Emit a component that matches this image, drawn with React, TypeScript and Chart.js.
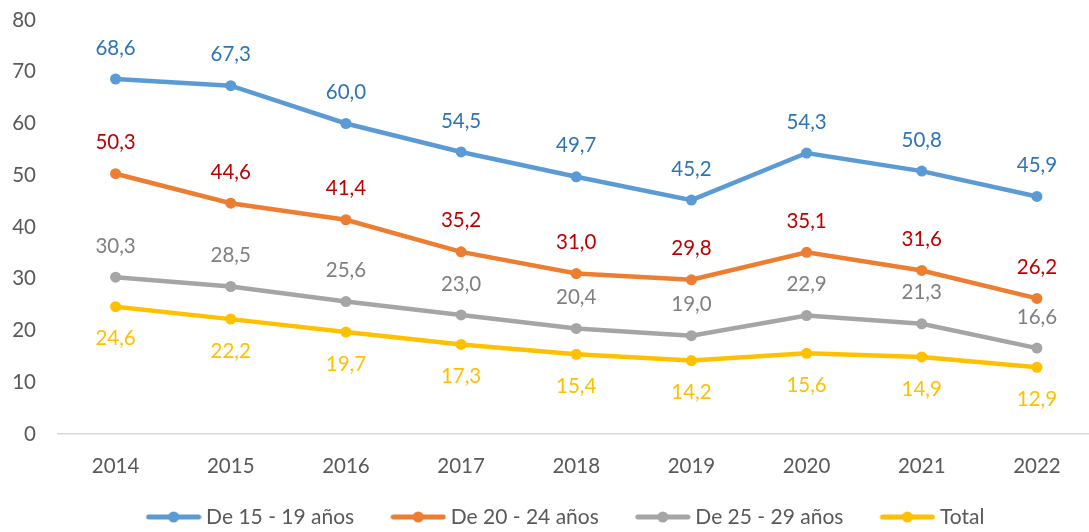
import React, { useEffect, useRef } from "react";
import { Chart, registerables } from "chart.js";

Chart.register(...registerables);

const years = ["2014", "2015", "2016", "2017", "2018", "2019", "2020", "2021", "2022"];
const de15a19 = [68.6, 67.3, 60.0, 54.5, 49.7, 45.2, 54.3, 50.8, 45.9];
const de20a24 = [50.3, 44.6, 41.4, 35.2, 31.0, 29.8, 35.1, 31.6, 26.2];
const de25a29 = [30.3, 28.5, 25.6, 23.0, 20.4, 19.0, 22.9, 21.3, 16.6];
const total = [24.6, 22.2, 19.7, 17.3, 15.4, 14.2, 15.6, 14.9, 12.9];
const seriesNames = ["De 15 - 19 años", "De 20 - 24 años", "De 25 - 29 años", "Total"];

const lineColors = ["#5B9BD5", "#ED7D31", "#A5A5A5", "#FFC000"];
const labelColors = ["#2E75B6", "#C00000", "#808080", "#FFC000"];
const labelBelow = [false, false, false, true];
const FONT = "Lato";

const LEG_BOX = 76;
const LEG_IMG_W = LEG_BOX + 12;

function makeLegendImage(color: string): HTMLCanvasElement {
  const c = document.createElement("canvas");
  c.width = LEG_IMG_W;
  c.height = 14;
  const ctx = c.getContext("2d")!;
  const x0 = LEG_IMG_W - 56;
  ctx.strokeStyle = color;
  ctx.lineWidth = 5;
  ctx.lineCap = "round";
  ctx.beginPath();
  ctx.moveTo(x0 + 3, 7);
  ctx.lineTo(LEG_IMG_W - 3, 7);
  ctx.stroke();
  ctx.fillStyle = color;
  ctx.beginPath();
  ctx.arc(x0 + 28, 7, 5.5, 0, Math.PI * 2);
  ctx.fill();
  return c;
}

const valueLabels = {
  id: "valueLabels",
  afterDatasetsDraw(chart: any) {
    const ctx = chart.ctx;
    chart.data.datasets.forEach((ds: any, i: number) => {
      const meta = chart.getDatasetMeta(i);
      ctx.save();
      ctx.font = `20.5px ${FONT}`;
      ctx.fillStyle = labelColors[i];
      ctx.textAlign = "center";
      ctx.textBaseline = "middle";
      meta.data.forEach((pt: any, j: number) => {
        const v = ds.data[j] as number;
        const txt = v.toFixed(1).replace(".", ",");
        ctx.fillText(txt, pt.x, pt.y + (labelBelow[i] ? 32 : -31));
      });
      ctx.restore();
    });
  },
};

const shiftLegend = {
  id: "shiftLegend",
  afterInit(chart: any) {
    const lg = chart.legend;
    if (!lg) return;
    const orig = lg.draw.bind(lg);
    lg.draw = (...args: any[]) => {
      chart.ctx.save();
      chart.ctx.translate(2, 5.5);
      orig(...args);
      chart.ctx.restore();
    };
  },
};

export default function App() {
  const ref = useRef<HTMLCanvasElement | null>(null);

  useEffect(() => {
    document.body.style.margin = "0";
    document.body.style.overflow = "hidden";
    let chart: Chart | null = null;
    let cancelled = false;
    const build = () => {
      if (cancelled || !ref.current) return;
      const seriesData = [de15a19, de20a24, de25a29, total];
      const legendImgs = lineColors.map(makeLegendImage);
      chart = new Chart(ref.current, {
        type: "line",
        data: {
          labels: years,
          datasets: seriesData.map((d, i) => ({
            label: seriesNames[i],
            data: d,
            borderColor: lineColors[i],
            backgroundColor: lineColors[i],
            borderWidth: 4.5,
            pointRadius: 5.5,
            pointBackgroundColor: lineColors[i],
            pointBorderWidth: 0,
            tension: 0,
          })),
        },
        options: {
          animation: false,
          responsive: true,
          maintainAspectRatio: false,
          layout: { padding: { top: 20, right: 0, left: 0, bottom: 0 } },
          plugins: {
            tooltip: { enabled: false },
            legend: {
              position: "bottom",
              labels: {
                font: { family: FONT, size: 21 },
                color: "#595959",
                usePointStyle: true,
                pointStyleWidth: LEG_BOX,
                padding: 10,
                generateLabels: (c: any) =>
                  c.data.datasets.map((ds: any, i: number) => ({
                    text: ds.label,
                    pointStyle: legendImgs[i],
                    fillStyle: lineColors[i],
                    strokeStyle: lineColors[i],
                    lineWidth: 0,
                    hidden: false,
                    datasetIndex: i,
                    fontColor: "#595959",
                  })),
              },
            },
          },
          scales: {
            x: {
              offset: true,
              grid: { display: false, drawTicks: false, offset: true },
              border: { display: true, color: "#D9D9D9", width: 1.5 },
              ticks: { font: { family: FONT, size: 20.5 }, color: "#595959", padding: 20 },
              afterFit: (s: any) => {
                s.height = 57;
              },
            },
            y: {
              min: 0,
              max: 80,
              grid: { display: false, drawTicks: false },
              border: { display: false },
              ticks: { stepSize: 10, font: { family: FONT, size: 20.5 }, color: "#595959", padding: 22 },
              afterFit: (s: any) => {
                s.width = 58;
                s.paddingTop = 0;
                s.paddingBottom = 0;
              },
            },
          },
        },
        plugins: [valueLabels, shiftLegend],
      });
    };
    const fontsAny = (document as any).fonts;
    if (fontsAny && fontsAny.load) {
      fontsAny.load(`20px ${FONT}`).then(build, build);
    } else build();
    return () => {
      cancelled = true;
      if (chart) chart.destroy();
    };
  }, []);

  return (
    <div style={{ width: 1100, height: 532, position: "relative" }}>
      <canvas ref={ref} />
    </div>
  );
}
